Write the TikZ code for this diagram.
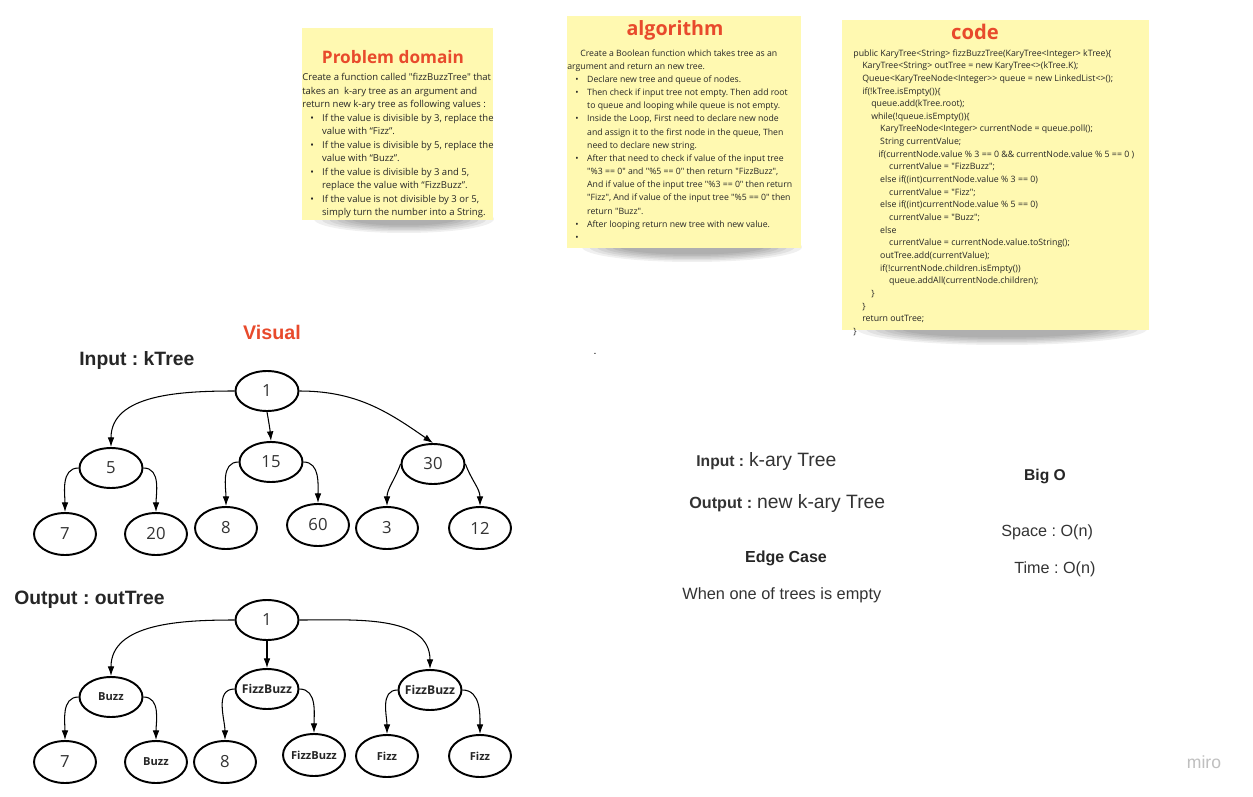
\documentclass[tikz,border=0pt]{standalone}
\usepackage{fontspec}
\setmainfont{Liberation Sans}
\newfontfamily\notefont{Open Sans}
\usetikzlibrary{shapes.geometric, arrows.meta, positioning}
\frenchspacing
\definecolor{notebg}{RGB}{255,249,177}
\definecolor{titlered}{RGB}{232,74,44}
\definecolor{txtgray}{RGB}{51,51,51}
\newlength\codestep
\setlength\codestep{5.1pt}
\newcommand{\bul}{\hspace*{4.6pt}\makebox[6.7pt][l]{•}}
\newcommand{\cnt}{\hspace*{11.3pt}}
\newcommand{\tb}[1]{\hspace*{#1\codestep}}
\newcommand{\nw}[1]{\makebox[0pt]{#1}}
\tikzset{
	x=0.02cm, y=-0.02cm,
	tnode/.style={ellipse, draw=black, line width=1.1pt, minimum width=1.26cm,
		minimum height=0.8cm, inner sep=0pt, text=txtgray,
		font=\notefont\fontsize{9.5}{11}\selectfont},
	leaf/.style={tnode, minimum width=1.24cm, minimum height=0.84cm},
	word/.style={font=\notefont\bfseries\fontsize{6.3}{8}\selectfont, text=black!85},
	bigword/.style={font=\notefont\bfseries\fontsize{6.9}{9}\selectfont, text=black!85},
	link/.style={-{Latex[length=5.5pt,width=3.8pt]}, line width=0.6pt},
	notetitle/.style={font=\notefont\bfseries, text=titlered, inner sep=0pt},
	notebody/.style={anchor=north west, align=left, inner sep=0pt, text=black!85},
	heading/.style={font=\bfseries\fontsize{11}{13}\selectfont, text=black!85, inner sep=0pt},
	plain/.style={text=txtgray, inner sep=0pt}
}
\begin{document}
\begin{tikzpicture}
	\useasboundingbox (0,0) rectangle (1253,797);
	\fill[white] (0,0) rectangle (1253,797);
	
	% sticky notes
	\foreach \k in {0,...,5}
	\fill[black, opacity=0.06] (404,219) ellipse [x radius={1.8cm-\k*1.5mm}, y radius={0.28cm-\k*0.3mm}];
	\fill[notebg] (302,28) rectangle (493,220);
	\node[notetitle, font=\notefont\bfseries\fontsize{9.8}{12}\selectfont] (pdtitle) at (393,57) {Problem domain};
	\node[notebody, font=\notefont\fontsize{5.4}{7.7}\selectfont] (pdbody) at (302,73) {%
		Create a function called "fizzBuzzTree" that\\
		takes an\ \ k-ary tree as an argument and\\
		return new k-ary tree as following values :\\
		\bul If the value is divisible by 3, replace the\\
		\cnt value with “Fizz”.\\
		\bul If the value is divisible by 5, replace the\\
		\cnt value with “Buzz”.\\
		\bul If the value is divisible by 3 and 5,\\
		\cnt replace the value with “FizzBuzz”.\\
		\bul If the value is not divisible by 3 or 5,\\
		\cnt simply turn the number into a String.};
	
	\foreach \k in {0,...,5}
	\fill[black, opacity=0.06] (692,247) ellipse [x radius={2.2cm-\k*1.5mm}, y radius={0.3cm-\k*0.3mm}];
	\fill[notebg] (567,16) rectangle (801,248);
	\node[notetitle, font=\notefont\bfseries\fontsize{11.2}{13}\selectfont] (altitle) at (675,30) {algorithm};
	\node[notebody, font=\notefont\fontsize{4.95}{7.5}\selectfont] (albody) at (567,49) {%
		\hspace*{7.4pt}Create a Boolean function which takes tree as an\\
		argument and return an new tree.\\
		\bul Declare new tree and queue of nodes.\\
		\bul Then check if input tree not empty. Then add root\\
		\cnt to queue and looping while queue is not empty.\\
		\bul Inside the Loop, First need to declare new node\\
		\cnt and assign it to the first node in the queue, Then\\
		\cnt need to declare new string.\\
		\bul After that need to check if value of the input tree\\
		\cnt "\%3 == 0" and "\%5 == 0" then return "FizzBuzz",\\
		\cnt And if value of the input tree "\%3 == 0" then return\\
		\cnt "Fizz", And if value of the input tree "\%5 == 0" then\\
		\cnt return "Buzz".\\
		\bul After looping return new tree with new value.\\
		\bul};
	
	\foreach \k in {0,...,5}
	\fill[black, opacity=0.06] (1002,329) ellipse [x radius={2.9cm-\k*1.8mm}, y radius={0.32cm-\k*0.3mm}];
	\fill[notebg] (842,20) rectangle (1149,330);
	\node[notetitle, font=\notefont\bfseries\fontsize{11.5}{13}\selectfont] (cdtitle) at (975,32) {code};
	\node[notebody, font=\notefont\fontsize{5}{7.2}\selectfont] (cdbody) at (853,49) {%
		public KaryTree<String> fizzBuzzTree(KaryTree<Integer> kTree)\{\\
		\tb{1}KaryTree<String> outTree = new KaryTree<>(kTree.K);\\
		\tb{1}Queue<KaryTreeNode<Integer>> queue = new LinkedList<>();\\
		\tb{1}if(!kTree.isEmpty())\{\\
		\tb{2}queue.add(kTree.root);\\
		\tb{2}while(!queue.isEmpty())\{\\
		\tb{3}KaryTreeNode<Integer> currentNode = queue.poll();\\
		\tb{3}String currentValue;\\
		\tb{2.8}if(currentNode.value \% 3 == 0 \&\& currentNode.value \% 5 == 0 )\\
		\tb{4}currentValue = "FizzBuzz";\\
		\tb{3}else if((int)currentNode.value \% 3 == 0)\\
		\tb{4}currentValue = "Fizz";\\
		\tb{3}else if((int)currentNode.value \% 5 == 0)\\
		\tb{4}currentValue = "Buzz";\\
		\tb{3}else\\
		\tb{4}currentValue = currentNode.value.toString();\\
		\tb{3}outTree.add(currentValue);\\
		\tb{3}if(!currentNode.children.isEmpty())\\
		\tb{4}queue.addAll(currentNode.children);\\
		\tb{2}\}\\
		\tb{1}\}\\
		\tb{1}return outTree;\\
		\}};
	
	% visual
	\node[heading, text=titlered, font=\bfseries\fontsize{11.2}{13}\selectfont] (visual) at (272,332) {Visual};
	\node[heading, anchor=west] (inlabel) at (79,361) {Input : kTree};
	\node[heading, anchor=west] (outlabel) at (14,600) {Output : outTree};
	\node[inner sep=0pt, font=\fontsize{6}{7}\selectfont] (dot) at (595,354) {.};
	
	% input tree
	\node[tnode] (in1) at (267,391) {1};
	\node[tnode] (in5) at (111,468) {5};
	\node[tnode] (in15) at (271,462) {15};
	\node[tnode] (in30) at (433,464) {30};
	\node[leaf] (in7) at (65,534) {7};
	\node[leaf] (in20) at (156,534) {20};
	\node[leaf] (in8) at (226,528) {8};
	\node[leaf] (in60) at (318,525) {60};
	\node[leaf] (in3) at (387,528) {3};
	\node[leaf] (in12) at (480,528) {12};
	
	\draw[link] (in1.west) to[out=180, in=90] (in5.north);
	\draw[link] (in1.south) to[out=-80, in=95] (in15.north);
	\draw[link] (in1.east) to[out=0, in=145] (in30.north);
	\draw[link] (in5.west) to[out=180, in=90] (in7.north);
	\draw[link] (in5.east) to[out=0, in=90] (in20.north);
	\draw[link] (in15.west) to[out=180, in=90] (in8.north);
	\draw[link] (in15.east) to[out=0, in=90] (in60.north);
	\draw[link] (in30.west) to[out=-110, in=90] (in3.north);
	\draw[link] (in30.east) to[out=-70, in=90] (in12.north);
	
	% output tree
	\node[tnode] (out1) at (267,620) {1};
	\node[tnode, word] (outbuzz) at (111,697) {Buzz};
	\node[tnode, bigword] (outfb1) at (267,689) {\nw{FizzBuzz}};
	\node[tnode, bigword] (outfb2) at (430,690) {\nw{FizzBuzz}};
	\node[leaf] (out7) at (65,762) {7};
	\node[leaf, word] (outbuzz2) at (156,762) {Buzz};
	\node[leaf] (out8) at (225,762) {8};
	\node[leaf, word] (outfb3) at (314,755) {\nw{FizzBuzz}};
	\node[leaf, word] (outfizz1) at (387,756) {Fizz};
	\node[leaf, word] (outfizz2) at (480,756) {Fizz};
	
	\draw[link] (out1.west) to[out=180, in=90] (outbuzz.north);
	\draw[link] (out1.south) -- (outfb1.north);
	\draw[link] (out1.east) to[out=0, in=90] (outfb2.north);
	\draw[link] (outbuzz.west) to[out=180, in=90] (out7.north);
	\draw[link] (outbuzz.east) to[out=0, in=90] (outbuzz2.north);
	\draw[link] (outfb1.west) to[out=180, in=90] (out8.north);
	\draw[link] (outfb1.east) to[out=0, in=90] (outfb3.north);
	\draw[link] (outfb2.west) to[out=180, in=90] (outfizz1.north);
	\draw[link] (outfb2.east) to[out=0, in=90] (outfizz2.north);
	
	% summary
	\node[plain, anchor=base west] (intext) at (696,466) {{\bfseries\fontsize{8.9}{11}\selectfont Input :} {\fontsize{11}{13}\selectfont k-ary Tree}};
	\node[plain, anchor=base west] (outtext) at (689,508) {{\bfseries\fontsize{9.2}{11}\selectfont Output :} {\fontsize{11}{13}\selectfont new k-ary Tree}};
	\node[plain, text=black!85, font=\bfseries\fontsize{9.1}{11}\selectfont] (edgecase) at (786,558) {Edge Case};
	\node[plain, anchor=west, font=\fontsize{9.3}{11}\selectfont] (edgetext) at (682,595) {When one of trees is empty};
	\node[plain, text=black!85, font=\bfseries\fontsize{8.9}{11}\selectfont] (bigo) at (1045,476) {Big O};
	\node[plain, anchor=west, font=\fontsize{9.2}{11}\selectfont] (space) at (1001,532) {Space : O(n)};
	\node[plain, anchor=west, font=\fontsize{9.2}{11}\selectfont] (time) at (1014,569) {Time : O(n)};
	\node[plain, text=black!25, font=\fontsize{10}{12}\selectfont] (miro) at (1204,762) {miro};
\end{tikzpicture}
\end{document}
